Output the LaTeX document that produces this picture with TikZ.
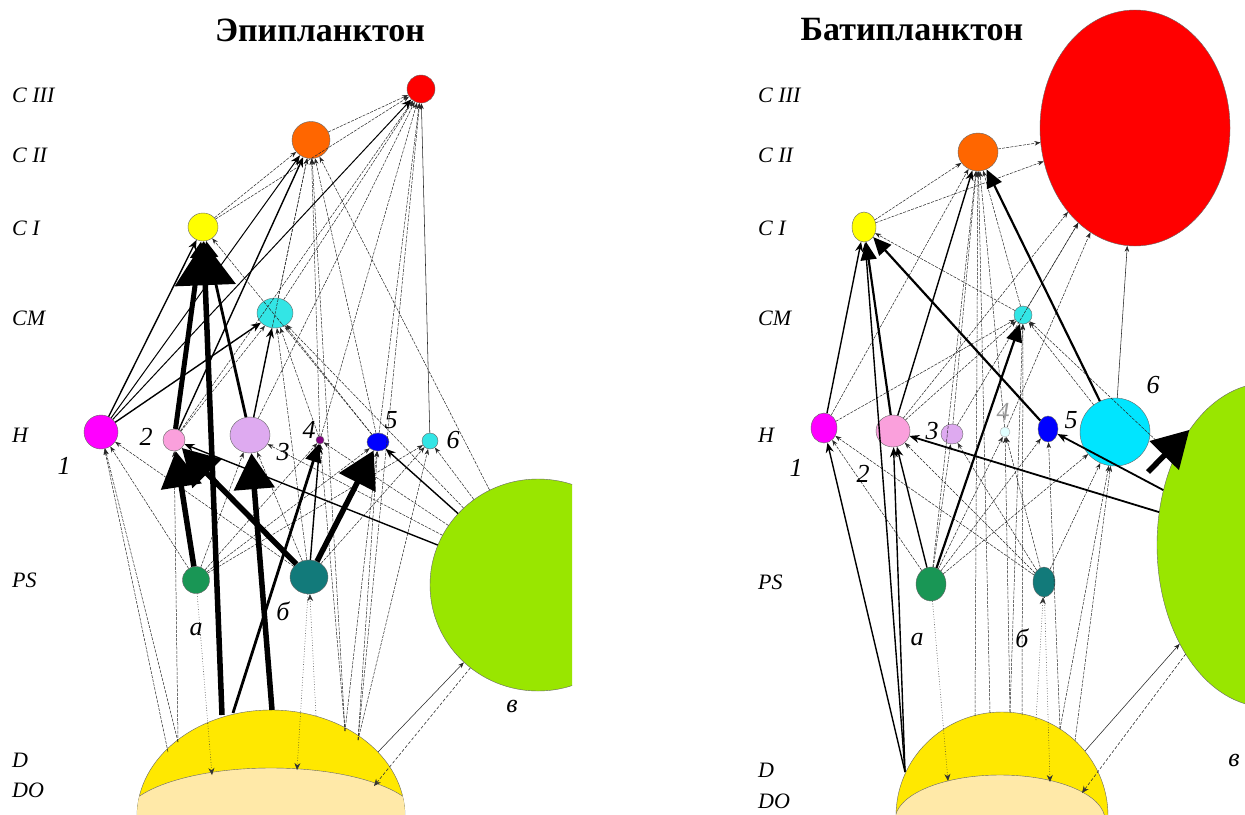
\documentclass[tikz,border=0pt]{standalone}
\usepackage{fontspec}
\setmainfont{Liberation Serif}
\usetikzlibrary{arrows.meta,shapes.geometric}

\definecolor{redC}{RGB}{255,0,0}
\definecolor{orangeC}{RGB}{255,102,0}
\definecolor{yellowC}{RGB}{255,255,0}
\definecolor{cyanC}{RGB}{51,229,229}
\definecolor{cyanB}{RGB}{0,229,255}
\definecolor{magC}{RGB}{255,0,255}
\definecolor{pinkC}{RGB}{250,160,220}
\definecolor{lilacC}{RGB}{222,170,240}
\definecolor{purpC}{RGB}{128,0,128}
\definecolor{blueC}{RGB}{0,0,255}
\definecolor{greenA}{RGB}{25,150,85}
\definecolor{tealB}{RGB}{18,122,122}
\definecolor{limeC}{RGB}{153,230,0}
\definecolor{domeY}{RGB}{255,232,0}
\definecolor{domeO}{RGB}{255,233,168}
\definecolor{paleC}{RGB}{225,255,255}

\tikzset{
  ball/.style={ellipse, draw=black!60, line width=0.4pt, inner sep=0pt},
  finearr/.style={draw=black!85, line width=0.5pt, dash pattern=on 3pt off 1.2pt,
    -{Stealth[length=6pt,width=4.5pt]}},
  solarr/.style={draw=black!85, line width=0.55pt, -{Stealth[length=6pt,width=4.5pt]}},
  medarr/.style={draw=black, line width=1.4pt, -{Stealth[length=10pt,width=8pt]}},
  heavyarr/.style={draw=black, line width=2.8pt, -{Triangle[length=18pt,width=16pt]}},
  hugearr/.style={draw=black, line width=5.5pt, -{Triangle[length=36pt,width=40pt]}},
  dotarr/.style={draw=black!80, line width=0.6pt, dotted, -{Stealth[length=7pt,width=6pt]}},
  dasharr/.style={draw=black!80, line width=0.6pt, dash pattern=on 3pt off 2pt,
    -{Stealth[length=7pt,width=6pt]}},
  lvl/.style={font=\fontsize{22}{24}\selectfont\itshape, anchor=west, inner sep=0pt},
  num/.style={font=\fontsize{26}{28}\selectfont\itshape, inner sep=0pt},
  ttl/.style={font=\fontsize{34}{38}\selectfont\bfseries, inner sep=0pt},
}

\begin{document}
\begin{tikzpicture}[x=1pt,y=-1pt]
\path[use as bounding box, fill=white] (0,0) rectangle (1245,814);

\node[ttl] (tL) at (320,30) {Эпипланктон};
\node[ttl] (tR) at (912,30) {Батипланктон};

\node[lvl] (lC3L) at (12,95) {C III};
\node[lvl] (lC2L) at (12,155) {C II};
\node[lvl] (lC1L) at (12,228) {C I};
\node[lvl] (lCML) at (12,318) {CM};
\node[lvl] (lHL) at (12,435) {H};
\node[lvl] (lPSL) at (12,580) {PS};
\node[lvl] (lDL) at (12,760) {D};
\node[lvl] (lDOL) at (12,790) {DO};

\node[lvl] (lC3R) at (758,95) {C III};
\node[lvl] (lC2R) at (758,155) {C II};
\node[lvl] (lC1R) at (758,228) {C I};
\node[lvl] (lCMR) at (758,318) {CM};
\node[lvl] (lHR) at (758,435) {H};
\node[lvl] (lPSR) at (758,582) {PS};
\node[lvl] (lDR) at (758,770) {D};
\node[lvl] (lDOR) at (758,801) {DO};

\filldraw[fill=domeY, draw=black!60] (271,816) ellipse [x radius=134pt, y radius=106pt];
\begin{scope}
\clip (271,816) ellipse [x radius=134pt, y radius=106pt];
\filldraw[fill=domeO, draw=black!60] (271,820) ellipse [x radius=148pt, y radius=52pt];
\end{scope}
\filldraw[fill=domeY, draw=black!60] (1002,816) ellipse [x radius=106pt, y radius=104pt];
\begin{scope}
\clip (1002,816) ellipse [x radius=106pt, y radius=104pt];
\filldraw[fill=domeO, draw=black!60] (1000,820) ellipse [x radius=105pt, y radius=45pt];
\end{scope}

\begin{scope}
\clip (0,0) rectangle (572,814);
\node[ball, fill=limeC, minimum width=216pt, minimum height=212pt] (gL) at (538,585) {};
\end{scope}
\node[ball, fill=limeC, minimum width=220pt, minimum height=324pt] (gR) at (1267,545) {};

\node[ball, fill=redC, minimum width=28pt, minimum height=28pt] (c3L) at (421,89) {};
\node[ball, fill=orangeC, minimum width=38pt, minimum height=37pt] (c2L) at (311,140) {};
\node[ball, fill=yellowC, minimum width=30pt, minimum height=28pt] (c1L) at (203,227) {};
\node[ball, fill=cyanC, minimum width=36pt, minimum height=30pt] (cmL) at (275,313) {};
\node[ball, fill=magC, minimum width=34pt, minimum height=34pt] (h1L) at (101,432) {};
\node[ball, fill=pinkC, minimum width=22pt, minimum height=22pt] (h2L) at (174,440) {};
\node[ball, fill=lilacC, minimum width=40pt, minimum height=36pt] (h3L) at (250,435) {};
\node[ball, fill=purpC, minimum width=8pt, minimum height=8pt] (h4L) at (320,440) {};
\node[ball, fill=blueC, minimum width=22pt, minimum height=18pt] (h5L) at (378,442) {};
\node[ball, fill=cyanC, minimum width=16pt, minimum height=16pt] (h6L) at (430,441) {};
\node[ball, fill=greenA, minimum width=27pt, minimum height=27pt] (psaL) at (196,580) {};
\node[ball, fill=tealB, minimum width=38pt, minimum height=34pt] (psbL) at (309,577) {};

\node[ball, fill=redC, minimum width=190pt, minimum height=236pt] (c3R) at (1135,128) {};
\node[ball, fill=orangeC, minimum width=40pt, minimum height=38pt] (c2R) at (978,152) {};
\node[ball, fill=yellowC, minimum width=24pt, minimum height=30pt] (c1R) at (864,227) {};
\node[ball, fill=cyanC, minimum width=18pt, minimum height=18pt] (cmR) at (1023,315) {};
\node[ball, fill=magC, minimum width=26pt, minimum height=30pt] (h1R) at (824,428) {};
\node[ball, fill=pinkC, minimum width=34pt, minimum height=32pt] (h2R) at (893,431) {};
\node[ball, fill=lilacC, minimum width=22pt, minimum height=20pt] (h3R) at (952,434) {};
\node[ball, fill=paleC, draw=black!30, minimum width=10pt, minimum height=10pt] (h4R) at (1005,432) {};
\node[ball, fill=blueC, minimum width=20pt, minimum height=26pt] (h5R) at (1048,429) {};
\node[ball, fill=cyanB, minimum width=70pt, minimum height=68pt] (h6R) at (1115,432) {};
\node[ball, fill=greenA, minimum width=30pt, minimum height=34pt] (psaR) at (931,584) {};
\node[ball, fill=tealB, minimum width=22pt, minimum height=30pt] (psbR) at (1044,582) {};

\coordinate (dA) at (178,742);
\coordinate (dA2) at (168,752);
\coordinate (dB) at (222,715);
\coordinate (dC) at (233,713);
\coordinate (dD) at (272,710);
\coordinate (dU) at (316,716);
\coordinate (dF) at (345,731);
\coordinate (dF2) at (358,740);
\coordinate (dG) at (378,752);
\coordinate (dIa) at (212,775);
\coordinate (dIb) at (297,770);
\coordinate (dIc) at (374,786);

\coordinate (eA) at (905,772);
\coordinate (eB) at (975,716);
\coordinate (eB2) at (990,713);
\coordinate (eC) at (1010,712);
\coordinate (eC2) at (1022,715);
\coordinate (eU) at (1036,720);
\coordinate (eE) at (1060,729);
\coordinate (eF) at (1075,741);
\coordinate (eD) at (1085,751);
\coordinate (eIa) at (948,781);
\coordinate (eIb) at (1050,782);
\coordinate (eIc) at (1082,793);
\coordinate (hugetail) at (1148,472);

\path (c2L) edge[finearr] (c3L);
\path (c1L) edge[finearr] (c3L) edge[finearr] (c2L);
\path (cmL) edge[finearr] (c3L) edge[finearr] (c2L);
\path (h2L) edge[finearr] (c3L) edge[finearr] (cmL);
\path (h3L) edge[finearr] (c3L) edge[finearr] (c2L);
\path (h4L) edge[finearr] (c3L) edge[finearr] (c2L) edge[finearr] (cmL);
\path (h5L) edge[finearr] (c3L) edge[finearr] (c2L) edge[finearr] (cmL) edge[finearr] (c1L);
\path (h6L) edge[solarr] (c3L);
\path (psaL) edge[finearr] (h1L) edge[finearr] (h3L) edge[finearr] (h4L) edge[finearr] (h5L) edge[finearr] (h6L);
\path (psbL) edge[finearr] (h1L) edge[finearr] (h3L) edge[finearr] (h6L) edge[finearr] (cmL);
\path (gL) edge[finearr] (h6L) edge[finearr] (h4L) edge[finearr] (h3L) edge[finearr] (cmL) edge[finearr] (c2L);
\path (dA) edge[finearr] (h1L) edge[finearr] (h2L);
\path (dA2) edge[finearr] (h1L);
\path (dF) edge[finearr] (h4L) edge[finearr] (h5L) edge[finearr] (c2L);
\path (dF2) edge[finearr] (h6L) edge[finearr] (h5L) edge[finearr] (c3L);

\path (h1L) edge[medarr] (c1L) edge[medarr] (cmL);
\path (h1L) edge[medarr, line width=1pt] (c2L) edge[medarr, line width=1pt] (c3L);
\path (h2L) edge[medarr] (c2L);
\path (h3L) edge[medarr] (cmL);
\path (gL) edge[medarr] (h5L) edge[medarr] (h2L);
\path (psbL) edge[medarr] (h4L);
\draw[heavyarr] (h3L) -- (c1L);
\draw[heavyarr] (dC) -- (h4L);
\draw[heavyarr, line width=5pt] (h2L) -- (c1L);
\draw[hugearr, -{Triangle[length=44pt,width=60pt]}] (dB) -- (c1L);
\draw[hugearr] (psaL) -- (h2L);
\draw[hugearr] (psbL) -- (h2L);
\draw[hugearr] (psbL) -- (h5L);
\draw[hugearr] (dD) -- (h3L);

\draw[dotarr] (psaL) -- (dIa);
\draw[dotarr] (psbL) -- (dIb);
\draw[dotarr] (dU) -- (psbL);
\draw[dasharr] (gL) -- (dIc);
\draw[solarr] (dG) -- (gL);

\path (c2R) edge[finearr] (c3R);
\path (c1R) edge[finearr] (c2R) edge[finearr] (c3R);
\path (cmR) edge[finearr] (c3R) edge[finearr] (c2R) edge[finearr] (c1R);
\path (h1R) edge[finearr] (c2R) edge[finearr] (cmR);
\path (h2R) edge[finearr] (c3R) edge[finearr] (cmR);
\path (h3R) edge[finearr] (c2R) edge[finearr] (c3R);
\path (h4R) edge[finearr] (c2R) edge[finearr] (c3R);
\path (h6R) edge[solarr] (c3R) edge[finearr] (cmR);
\path (gR) edge[finearr] (cmR);
\path (psaR) edge[finearr] (h1R) edge[finearr] (h3R) edge[finearr] (h4R) edge[finearr] (h5R) edge[finearr] (h6R) edge[finearr] (c2R);
\path (psbR) edge[finearr] (h1R) edge[finearr] (h2R) edge[finearr] (h3R) edge[finearr] (h6R) edge[finearr] (h4R);
\path (eB) edge[finearr] (c2R);
\path (eB2) edge[finearr] (c2R);
\path (eC) edge[finearr] (cmR) edge[finearr] (h4R);
\path (eC2) edge[finearr] (cmR);
\path (eE) edge[finearr] (h6R) edge[finearr] (h5R);
\path (eF) edge[finearr] (h6R);

\path (h1R) edge[medarr] (c1R);
\path (eA) edge[medarr] (h1R) edge[medarr] (h2R) edge[medarr] (c1R);
\path (h2R) edge[medarr] (c2R);
\path (psaR) edge[medarr] (h2R);
\path (gR) edge[medarr, line width=1.8pt] (h2R) edge[medarr, line width=1.8pt] (h5R);
\draw[heavyarr, line width=2.2pt] (h2R) -- (c1R);
\draw[heavyarr, line width=2.2pt] (psaR) -- (cmR);
\draw[heavyarr, line width=2.2pt] (h5R) -- (c1R);
\draw[heavyarr, line width=2.2pt] (h6R) -- (c2R);
\draw[hugearr] (hugetail) -- (gR.124);

\draw[dotarr] (psaR) -- (eIa);
\draw[dotarr] (psbR) -- (eIb);
\draw[dotarr] (eU) -- (psbR);
\draw[dasharr] (gR) -- (eIc);
\draw[solarr] (eD) -- (gR);

\node[num] (n1L) at (64,466) {1};
\node[num] (n2L) at (146,437) {2};
\node[num] (n3L) at (283,452) {3};
\node[num] (n4L) at (309,430) {4};
\node[num] (n5L) at (391,420) {5};
\node[num] (n6L) at (453,440) {6};
\node[num] (naL) at (196,630) {а};
\node[num] (nbL) at (283,611) {б};
\node[num] (nvL) at (512,706) {в};

\node[num] (n1R) at (796,468) {1};
\node[num] (n2R) at (863,474) {2};
\node[num] (n3R) at (932,431) {3};
\node[num, black!40] (n4R) at (1003,412) {4};
\node[num] (n5R) at (1071,420) {5};
\node[num] (n6R) at (1153,385) {6};
\node[num] (naR) at (917,640) {а};
\node[num] (nbR) at (1022,638) {б};
\node[num] (nvR) at (1234,760) {в};
\end{tikzpicture}
\end{document}
